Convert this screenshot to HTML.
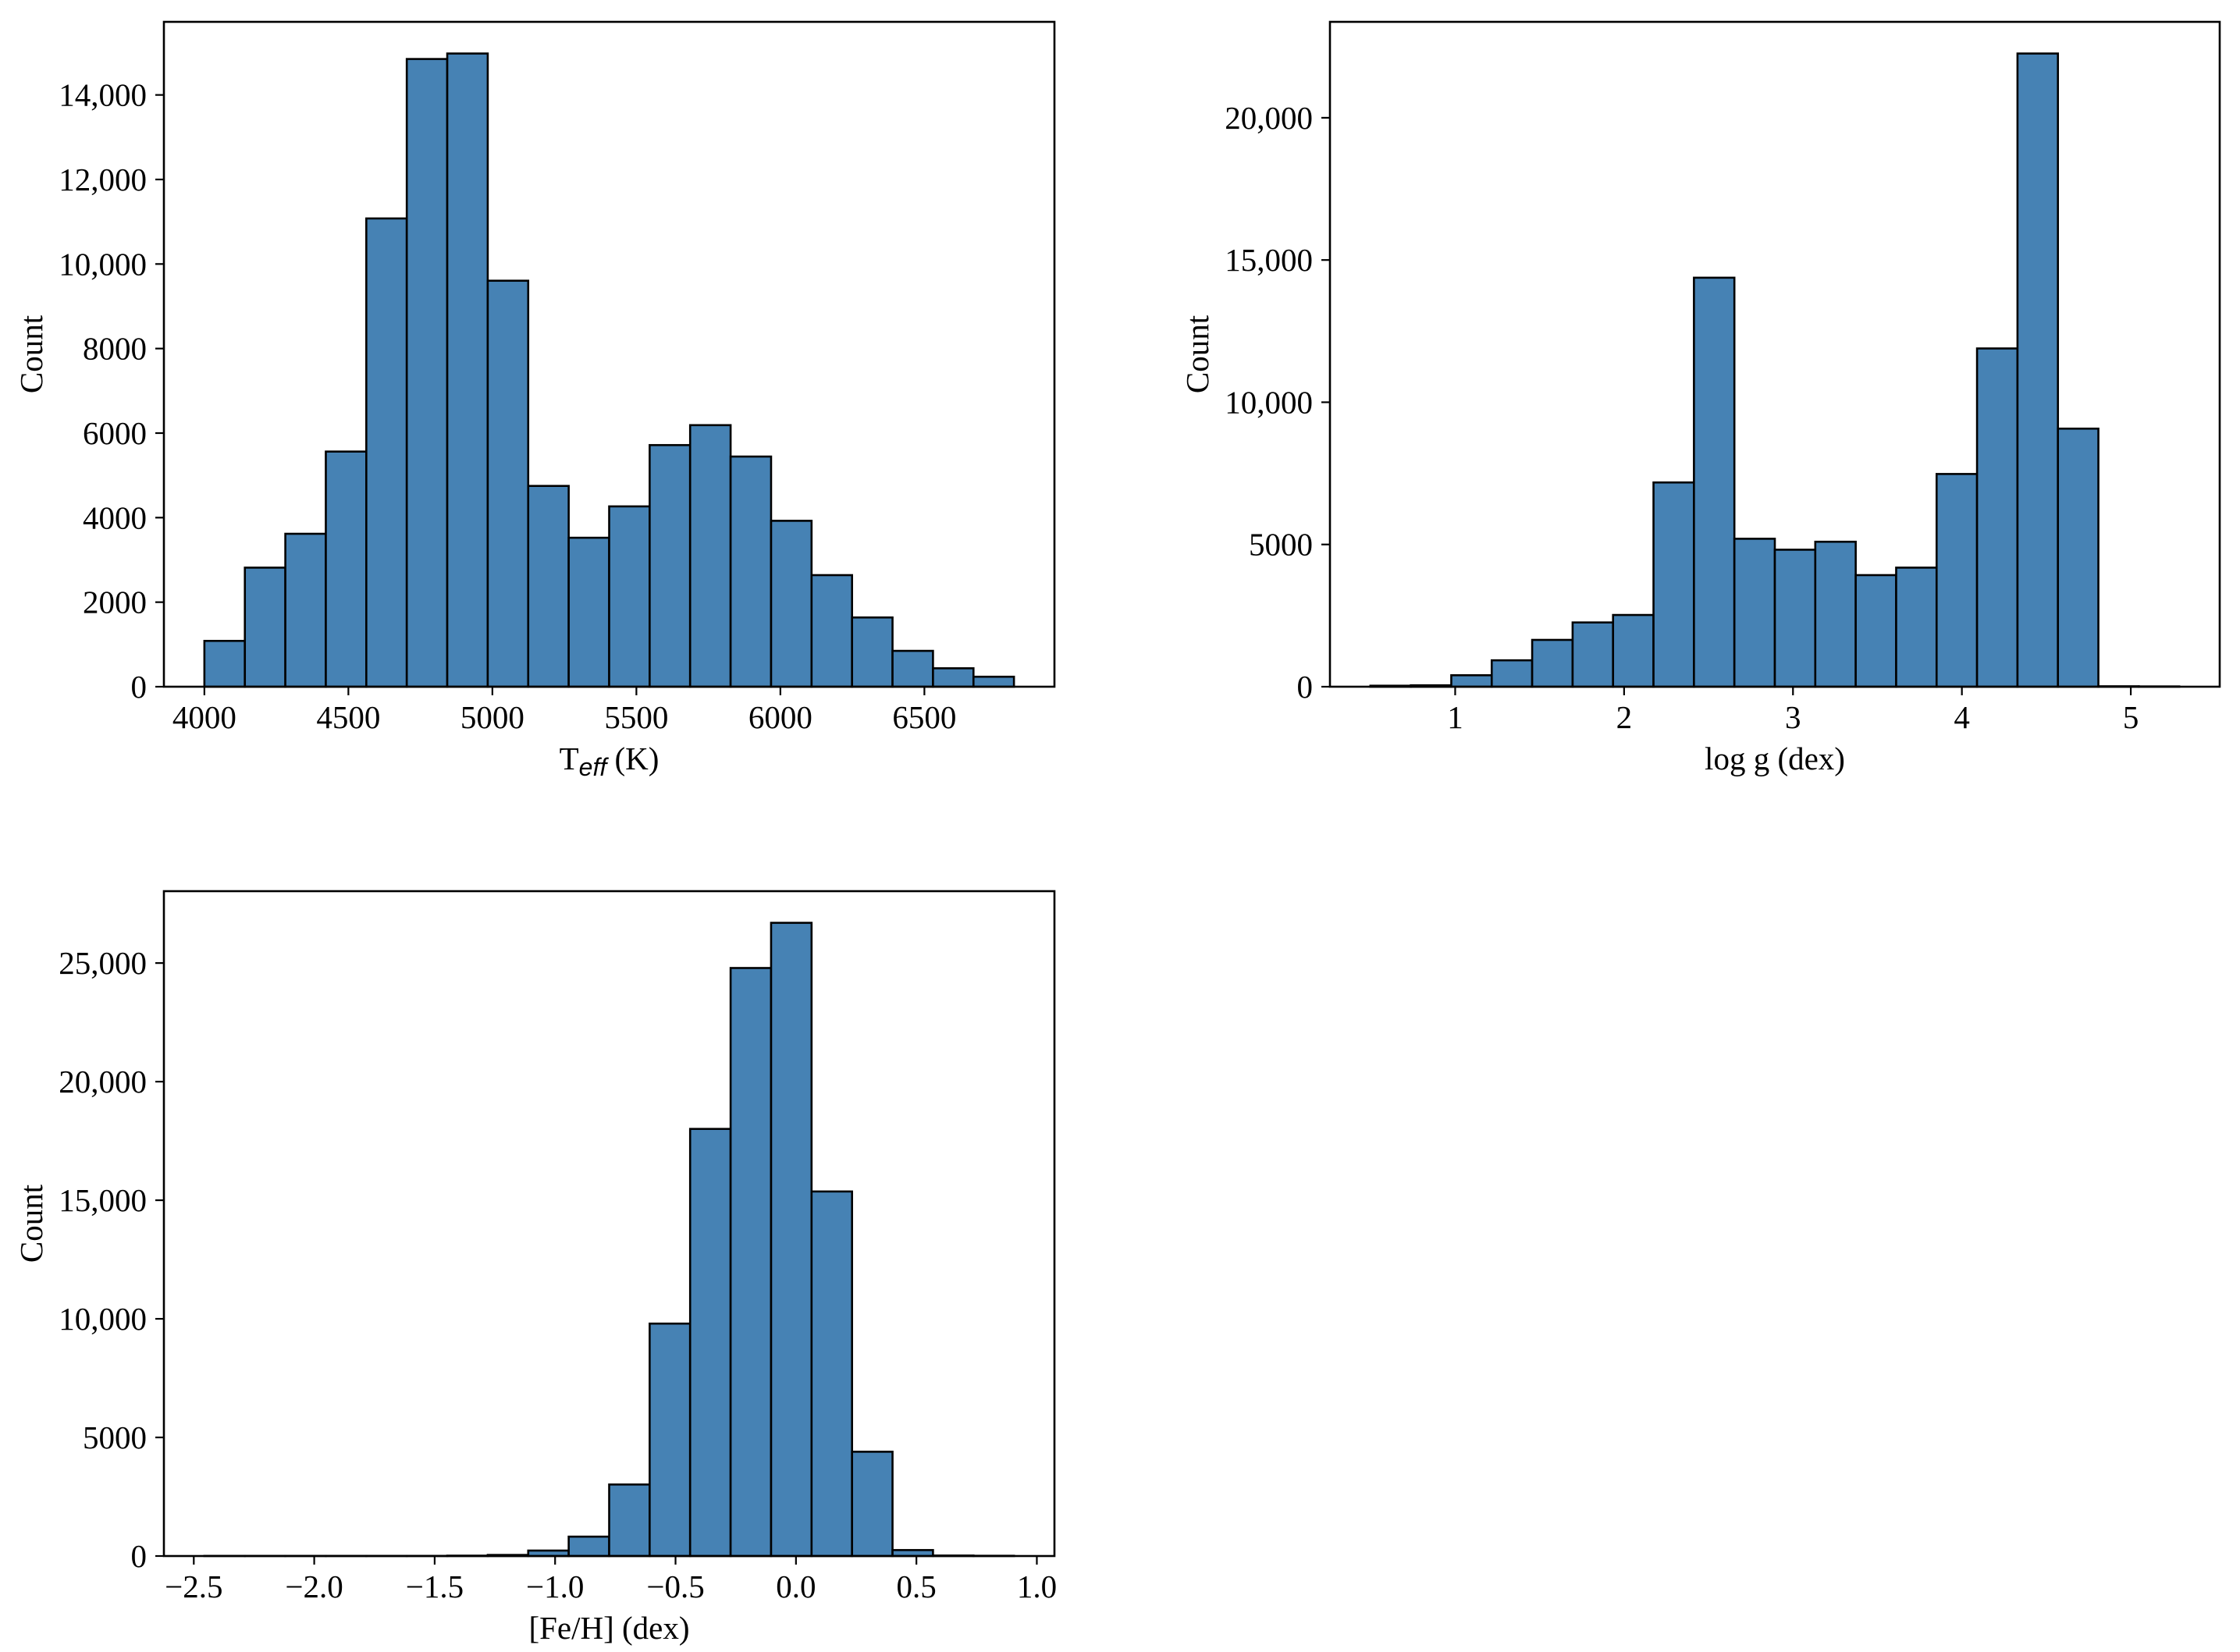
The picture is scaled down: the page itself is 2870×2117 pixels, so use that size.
<!DOCTYPE html>
<html><head><meta charset="utf-8"><style>
html,body{margin:0;padding:0;background:#fff}
svg{display:block}
text{font-family:"Liberation Serif","Times New Roman",serif;fill:#000}
</style></head><body>
<svg id="fig" width="2870" height="2117" viewBox="0 0 2870 2117" xmlns="http://www.w3.org/2000/svg"></svg>
<script>
// Panel 1: Teff
const teffCounts = [1084,2817,3618,5563,11078,14850,14980,9605,4750,3524,4266,5716,6188,5445,3925,2640,1638,848,436,236];
const teffRange = [4000, 6811];
const teffXTicks = [4000,4500,5000,5500,6000,6500];
const teffXTickLabels = ["4000","4500","5000","5500","6000","6500"];
const teffYTicks = [0,2000,4000,6000,8000,10000,12000,14000];
const teffYTickLabels = ["0","2000","4000","6000","8000","10,000","12,000","14,000"];
// Panel 2: log g
const loggCounts = [35,50,403,928,1646,2259,2522,7180,14378,5201,4816,5096,3923,4186,7478,11891,22259,9072,15,10];
const loggRange = [0.498, 5.287];
const loggXTicks = [1,2,3,4,5];
const loggXTickLabels = ["1","2","3","4","5"];
const loggYTicks = [0,5000,10000,15000,20000];
const loggYTickLabels = ["0","5000","10,000","15,000","20,000"];
// Panel 3: [Fe/H]
const fehCounts = [5,5,5,5,5,5,15,45,230,817,3015,9799,18007,24791,26696,15369,4397,251,20,10];
const fehRange = [-2.456, 0.905];
const fehXTicks = [-2.5,-2.0,-1.5,-1.0,-0.5,0.0,0.5,1.0];
const fehXTickLabels = ["\u22122.5","\u22122.0","\u22121.5","\u22121.0","\u22120.5","0.0","0.5","1.0"];
const fehYTicks = [0,5000,10000,15000,20000,25000];
const fehYTickLabels = ["0","5000","10,000","15,000","20,000","25,000"];

const NS = "http://www.w3.org/2000/svg";
const svg = document.getElementById('fig');
function mk(tag, attrs, parent){const e=document.createElementNS(NS,tag);for(const k in attrs)e.setAttribute(k,attrs[k]);(parent||svg).appendChild(e);return e;}

function panel(key, box, counts, range, xt, xtl, yt, ytl, xlabelFn){
  const g = mk('g',{});
  
  
  const n = counts.length, w = (range[1]-range[0])/n;
  const pad = (range[1]-range[0])*0.05;
  const x0 = range[0]-pad, x1 = range[1]+pad;
  const ymax = Math.max(...counts)*1.05;
  const X = v => box.l + (v-x0)/(x1-x0)*(box.r-box.l);
  const Y = v => box.b - v/ymax*(box.b-box.t);
  counts.forEach((c,i)=>{
    const xa = X(range[0]+i*w), xb = X(range[0]+(i+1)*w);
    const r = mk('rect',{x:xa,y:Y(c),width:xb-xa,height:Y(0)-Y(c),fill:'#4682b4',stroke:'#000','stroke-width':2.6},g);
    
    
  });
  const f = mk('rect',{x:box.l,y:box.t,width:box.r-box.l,height:box.b-box.t,fill:'none',stroke:'#000','stroke-width':2.6},g);
  
  
  xt.forEach((v,i)=>{
    const x = X(v);
    mk('line',{x1:x,x2:x,y1:box.b,y2:box.b+11,stroke:'#000','stroke-width':2.2},g);
    const t = mk('text',{x:x,y:box.b+53,'text-anchor':'middle','font-size':41},g);
    t.textContent = xtl[i];
    
    
  });
  yt.forEach((v,i)=>{
    const y = Y(v);
    mk('line',{x1:box.l-11,x2:box.l,y1:y,y2:y,stroke:'#000','stroke-width':2.2},g);
    const t = mk('text',{x:box.l-22,y:y+14,'text-anchor':'end','font-size':41},g);
    t.textContent = ytl[i];
    
    
  });
  const yl = mk('text',{x:0,y:0,'text-anchor':'middle','font-size':41,transform:`translate(${box.l-156},${(box.t+box.b)/2}) rotate(-90)`},g);
  yl.textContent='Count';
  
  
  const xl = mk('text',{x:(box.l+box.r)/2,y:box.b+106,'text-anchor':'middle','font-size':41},g);
  xlabelFn(xl);
  
  
}

panel('teff',{l:210,r:1351,t:28,b:880},teffCounts,teffRange,teffXTicks,teffXTickLabels,teffYTicks,teffYTickLabels,
  t=>{t.innerHTML='T<tspan font-family="Liberation Sans, sans-serif" font-style="italic" font-size="32" dy="8">eff</tspan><tspan dy="-8"> (K)</tspan>';});
panel('logg',{l:1704,r:2844,t:28,b:880},loggCounts,loggRange,loggXTicks,loggXTickLabels,loggYTicks,loggYTickLabels,
  t=>{t.textContent='log g (dex)';});
panel('feh',{l:210,r:1351,t:1142,b:1994},fehCounts,fehRange,fehXTicks,fehXTickLabels,fehYTicks,fehYTickLabels,
  t=>{t.textContent='[Fe/H] (dex)';});
</script>
</body></html>
